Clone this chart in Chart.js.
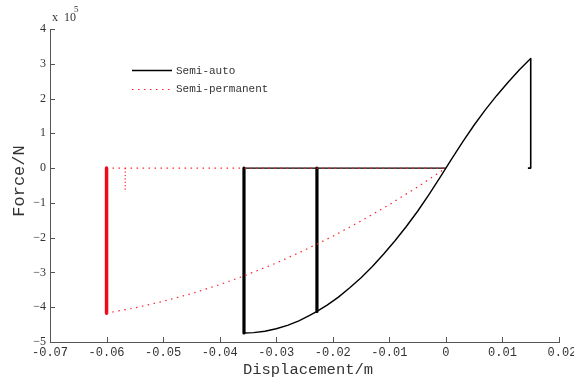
<!DOCTYPE html>
<html>
<head>
<meta charset="utf-8">
<script src="https://cdn.jsdelivr.net/npm/chart.js@4.4.1/dist/chart.umd.min.js"></script>
<style>
  body { margin: 0; background: #fff; }
  #wrap { width: 574px; height: 378px; }
</style>
</head>
<body>
<div id="wrap"><canvas id="chart" width="574" height="378"></canvas></div>
<script>
// values, force in units of 1e5 N
var xTicks = [-0.07, -0.06, -0.05, -0.04, -0.03, -0.02, -0.01, 0, 0.01, 0.02];
var xTickLabels = ['-0.07', '-0.06', '-0.05', '-0.04', '-0.03', '-0.02', '-0.01', '0', '0.01', '0.02'];
var yTicks = [-5, -4, -3, -2, -1, 0, 1, 2, 3, 4];

// Semi-auto
var autoX = [-0.0357, -0.034, -0.032, -0.030, -0.028, -0.026, -0.024, -0.0228, -0.021, -0.019, -0.017, -0.015, -0.013, -0.011, -0.009, -0.007, -0.005, -0.003, -0.001, 0, 0.001, 0.003, 0.005, 0.007, 0.009, 0.011, 0.013, 0.0145, 0.015];
var autoF = [-4.74, -4.73, -4.69, -4.62, -4.52, -4.39, -4.23, -4.12, -3.94, -3.71, -3.44, -3.15, -2.83, -2.47, -2.09, -1.68, -1.24, -0.76, -0.26, 0, 0.26, 0.76, 1.24, 1.68, 2.09, 2.47, 2.83, 3.07, 3.15];
var autoDropX = [0.015, 0.015, 0.0145];
var autoDropF = [3.15, 0, 0];
var autoZeroX = [-0.0357, 0];
var autoWallX = [-0.0357, -0.0228];
var autoWallF = [-4.74, -4.12];

// Semi-permanent
var permX = [-0.060, -0.055, -0.050, -0.045, -0.040, -0.0357, -0.030, -0.025, -0.020, -0.015, -0.010, -0.005, 0];
var permF = [-4.17, -4.02, -3.83, -3.61, -3.35, -3.10, -2.73, -2.36, -1.96, -1.52, -1.05, -0.54, 0];
var permZeroX = [-0.060, 0];
var permWallX = -0.060;
var permWallF = -4.17;
var permStubX = -0.0567;
var permStubF = -0.66;

var BLACK = '#000000';
var RED = 'rgb(255,30,45)';
var RED_SOLID = 'rgb(235,10,30)';
var DOTS = [1.5, 4.5];

function pts(xs, ys) {
  var out = [];
  for (var i = 0; i < xs.length; i++) out.push({ x: xs[i], y: ys[i] });
  return out;
}
function seg(x1, y1, x2, y2) { return [{ x: x1, y: y1 }, { x: x2, y: y2 }]; }

var wallsAuto = [];
for (var i = 0; i < autoWallX.length; i++) {
  if (i) wallsAuto.push({ x: autoWallX[i], y: null });
  wallsAuto.push({ x: autoWallX[i], y: 0 }, { x: autoWallX[i], y: autoWallF[i] });
}

var datasets = [
  { label: 'Semi-permanent', data: pts(permX, permF), borderColor: RED, borderWidth: 1.2, borderDash: DOTS, order: 0 },
  { label: 'perm zero', data: seg(permZeroX[0], 0, permZeroX[1], 0), borderColor: RED, borderWidth: 1.2, borderDash: DOTS, order: 0 },
  { label: 'perm stub', data: seg(permStubX, 0, permStubX, permStubF), borderColor: RED, borderWidth: 1.2, borderDash: [1.2, 2.2], order: 0 },
  { label: 'perm wall', data: seg(permWallX, 0, permWallX, permWallF), borderColor: RED_SOLID, borderWidth: 3.5, order: 0 },
  { label: 'Semi-auto', data: pts(autoX, autoF), borderColor: BLACK, borderWidth: 1.4, order: 1 },
  { label: 'auto drop', data: pts(autoDropX, autoDropF), borderColor: BLACK, borderWidth: 1.6, order: 1 },
  { label: 'auto zero', data: seg(autoZeroX[0], 0, autoZeroX[1], 0), borderColor: BLACK, borderWidth: 1.4, order: 1 },
  { label: 'auto walls', data: wallsAuto, borderColor: BLACK, borderWidth: 3.2, order: 1 }
];
datasets.forEach(function (d) {
  d.showLine = true; d.pointRadius = 0; d.tension = 0; d.fill = false; d.spanGaps = false;
  d.borderJoinStyle = 'round';
});

// MATLAB-ish inward ticks, labels, titles, legend
var decor = {
  id: 'decor',
  afterDraw: function (chart) {
    var c = chart.ctx, xs = chart.scales.x, ys = chart.scales.y, a = chart.chartArea;
    c.save();
    c.strokeStyle = '#555'; c.lineWidth = 1;
    c.beginPath();
    xTicks.forEach(function (v) {
      var px = Math.round(xs.getPixelForValue(v)) + 0.5;
      c.moveTo(px, a.bottom); c.lineTo(px, a.bottom - 5);
    });
    yTicks.forEach(function (v) {
      var py = Math.round(ys.getPixelForValue(v)) + 0.5;
      c.moveTo(a.left, py); c.lineTo(a.left + 5, py);
    });
    c.stroke();

    c.fillStyle = '#333';
    c.font = '12px "Liberation Mono", monospace';
    c.textAlign = 'center'; c.textBaseline = 'middle';
    xTicks.forEach(function (v, i) {
      c.fillText(xTickLabels[i], xs.getPixelForValue(v) + (i === xTicks.length - 1 ? 3 : 0), a.bottom + 11);
    });
    c.font = '12px "Liberation Serif", serif';
    c.textAlign = 'right';
    yTicks.forEach(function (v) {
      c.fillText(v < 0 ? '\u2212' + (-v) : String(v), a.left - 4, ys.getPixelForValue(v));
    });

    // exponent
    c.textAlign = 'left';
    c.fillText('x  10', a.left + 2, 18);
    c.font = '9px "Liberation Serif", serif';
    c.fillText('5', a.left + 24, 10);

    // axis titles
    c.font = '15.5px "Liberation Mono", monospace';
    c.textAlign = 'center';
    c.fillText('Displacement/m', 308, 370);
    c.save();
    c.translate(19, 181); c.rotate(-Math.PI / 2);
    c.font = '17px "Liberation Mono", monospace';
    c.fillText('Force/N', 0, 0);
    c.restore();

    // legend
    c.lineWidth = 1.5; c.strokeStyle = BLACK;
    c.beginPath(); c.moveTo(132, 70.5); c.lineTo(172, 70.5); c.stroke();
    c.lineWidth = 1.2; c.strokeStyle = RED; c.setLineDash(DOTS);
    c.beginPath(); c.moveTo(132, 89.5); c.lineTo(172, 89.5); c.stroke();
    c.setLineDash([]);
    c.font = '11px "Liberation Mono", monospace';
    c.fillStyle = '#333'; c.textAlign = 'left';
    c.fillText('Semi-auto', 176, 71);
    c.fillText('Semi-permanent', 176, 89);
    c.restore();
  }
};

new Chart(document.getElementById('chart'), {
  type: 'scatter',
  data: { datasets: datasets },
  options: {
    responsive: false,
    animation: false,
    layout: { padding: { left: 0, right: 15, top: 29, bottom: 0 } },
    plugins: { legend: { display: false }, tooltip: { enabled: false } },
    scales: {
      x: {
        type: 'linear', min: -0.07, max: 0.02,
        grid: { display: false, drawTicks: false },
        border: { display: true, color: '#555', width: 1 },
        ticks: { display: false },
        afterFit: function (s) { s.height = 36; }
      },
      y: {
        type: 'linear', min: -5, max: 4,
        grid: { display: false, drawTicks: false },
        border: { display: true, color: '#555', width: 1 },
        ticks: { display: false },
        afterFit: function (s) { s.width = 50; }
      }
    }
  },
  plugins: [decor]
});
</script>
</body>
</html>
